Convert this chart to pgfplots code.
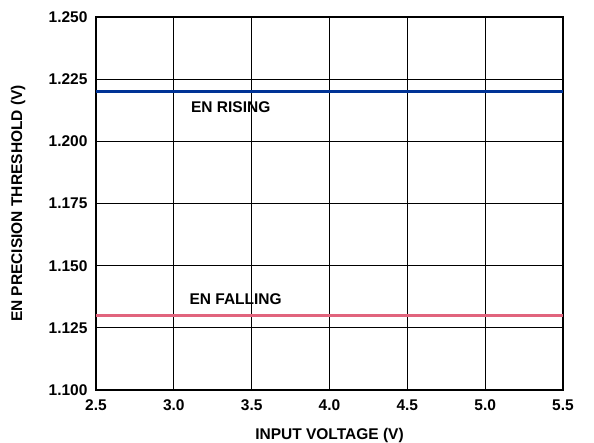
\documentclass[border=0pt]{standalone}
\usepackage{fontspec}
\setmainfont{Liberation Sans}
\usepackage{pgfplots}
\pgfplotsset{compat=1.18}
\definecolor{riseblue}{RGB}{0,51,150}
\definecolor{fallpink}{RGB}{225,100,125}
\newcommand{\lblfont}{\fontsize{15.5}{17}\selectfont\bfseries}
\begin{document}
\begin{tikzpicture}
\useasboundingbox (-96pt,-52pt) rectangle (498pt,390pt);
\begin{axis}[
  scale only axis, width=467pt, height=373pt,
  xmin=2.5, xmax=5.5, ymin=1.100, ymax=1.250,
  xtick={2.5,3.0,...,5.5},
  ytick={1.100,1.125,1.150,1.175,1.200,1.225,1.250},
  grid=major,
  major grid style={black, line width=1pt},
  axis line style={black, line width=1.4pt},
  tick style={draw=none},
  /pgf/number format/assume math mode=true,
  x tick label style={/pgf/number format/fixed, /pgf/number format/fixed zerofill, /pgf/number format/precision=1, yshift=-6pt},
  y tick label style={/pgf/number format/fixed, /pgf/number format/fixed zerofill, /pgf/number format/precision=3, xshift=-5pt},
  tick label style={font=\lblfont},
  label style={font=\lblfont},
  xlabel={INPUT VOLTAGE (V)},
  ylabel={EN PRECISION THRESHOLD (V)},
  xlabel style={at={(axis description cs:0.5,-0.123)}, anchor=center},
  ylabel style={at={(axis description cs:-0.167,0.5)}, anchor=center},
  clip=false,
]
\addplot[riseblue, line width=3pt] coordinates {(2.5,1.220) (5.5,1.220)};
\addplot[fallpink, line width=3pt] coordinates {(2.5,1.130) (5.5,1.130)};
\node[anchor=west, font=\lblfont, inner sep=0pt] at (axis cs:3.11,1.2138) {EN RISING};
\node[anchor=west, font=\lblfont, inner sep=0pt] at (axis cs:3.10,1.1366) {EN FALLING};
\end{axis}
\end{tikzpicture}
\end{document}
